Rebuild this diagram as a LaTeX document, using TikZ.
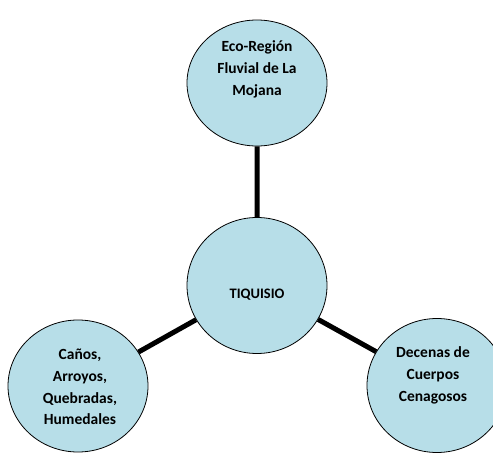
\documentclass[tikz,border=0pt]{standalone}
\usepackage{fontspec}
\setmainfont{Carlito}
\usetikzlibrary{shapes.geometric}

\definecolor{bubfill}{HTML}{B7DEE8}

\newcommand{\bubw}{140pt}
\newcommand{\bub}{\node[ellipse, draw, line width=0.8pt, fill=bubfill, minimum width=\bubw]}
\newcommand{\bubtxt}{\node[align=center, font=\bfseries\fontsize{15.5}{21.8}\selectfont]}

\begin{document}
\begin{tikzpicture}[x=1pt, y=-1pt]
            \useasboundingbox (0,0) rectangle (493,454);

            \bub[minimum height=126pt] (eco) at (257, 83) {};
            \bub[minimum height=136pt] (tiq) at (257, 285.5) {};
            \bub[minimum height=132pt] (canos) at (78, 386) {};
            \bub[minimum height=134pt] (cuerpos) at (437, 385.5) {};

            \draw[line width=5pt]
                (eco) -- (tiq)
                (tiq) -- (canos)
                (tiq) -- (cuerpos)
                ;

            \bubtxt (ecot) at ([yshift=13.5pt]eco.center) {Eco-Región\\Fluvial de La\\Mojana};
            \node[font=\bfseries\fontsize{14.5}{18}\selectfont] (tiqt) at ([yshift=-9pt]tiq.center) {TIQUISIO};
            \bubtxt (canost) at ([xshift=2pt, yshift=-1pt]canos.center) {Caños,\\Arroyos,\\Quebradas,\\Humedales};
            \bubtxt (cuerpost) at ([xshift=-4pt, yshift=10pt]cuerpos.center) {Decenas de\\Cuerpos\\Cenagosos};
        \end{tikzpicture}
\end{document}
